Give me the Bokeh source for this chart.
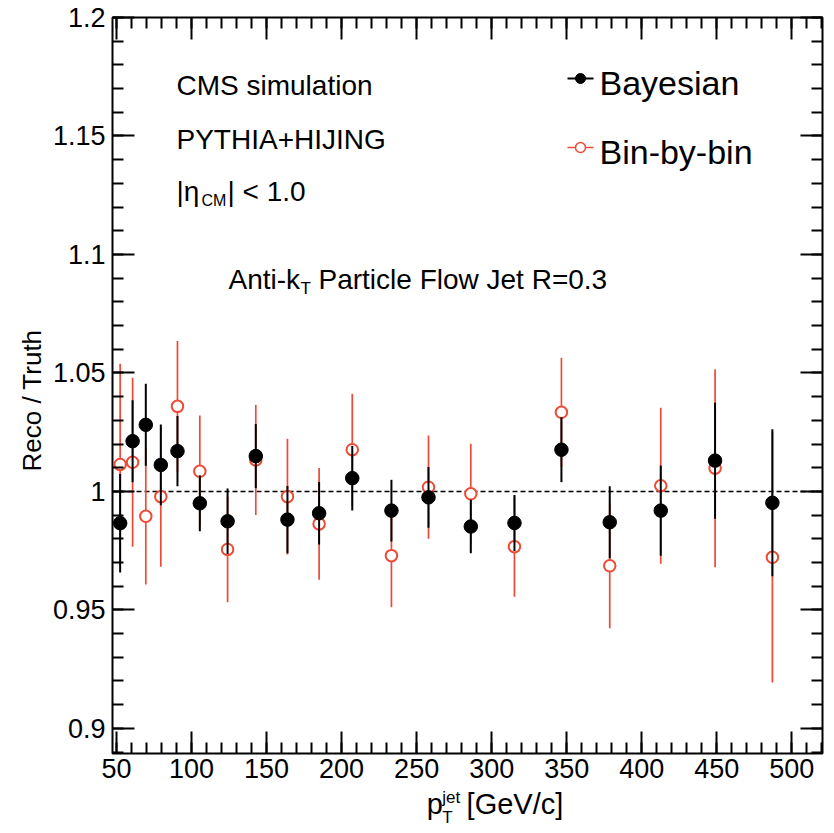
import numpy as np
from bokeh.plotting import figure
from bokeh.layouts import row, column
from bokeh.models import (Range1d, LinearAxis, SingleIntervalTicker, FixedTicker,
                          CustomJSTickFormatter, Label, Span, ColumnDataSource)
from bokeh.embed import file_html
from bokeh.resources import INLINE

# Jet pT bin centres [GeV/c]
pt_centers = [52.4, 60.7, 69.5, 79.5, 90.6, 105.5, 124.0, 142.8, 163.9, 185.0,
              207.1, 233.2, 257.9, 286.1, 315.2, 346.5, 378.7, 412.7, 448.9, 487.1]

# Reco / Truth after Bayesian unfolding
bayes_ratio = [0.9866, 1.0212, 1.0281, 1.0112, 1.0170, 0.9950, 0.9874, 1.0149, 0.9881, 0.9908,
               1.0056, 0.9919, 0.9975, 0.9852, 0.9867, 1.0176, 0.9870, 0.9919, 1.0130, 0.9952]
bayes_err = [0.0208, 0.0173, 0.0173, 0.0170, 0.0148, 0.0118, 0.0138, 0.0135, 0.0142, 0.0132,
             0.0136, 0.0130, 0.0128, 0.0113, 0.0118, 0.0137, 0.0152, 0.0190, 0.0245, 0.0310]

# Reco / Truth after bin-by-bin correction
bbb_ratio = [1.0114, 1.0123, 0.9895, 0.9978, 1.0359, 1.0085, 0.9755, 1.0133, 0.9978, 0.9863,
             1.0176, 0.9729, 1.0018, 0.9990, 0.9767, 1.0334, 0.9686, 1.0024, 1.0098, 0.9722]
bbb_err = [0.0425, 0.0357, 0.0288, 0.0296, 0.0276, 0.0235, 0.0223, 0.0232, 0.0244, 0.0236,
           0.0236, 0.0218, 0.0218, 0.0211, 0.0211, 0.0230, 0.0263, 0.0329, 0.0418, 0.0528]

# Axis ticks
y_major_ticks = [0.9, 0.95, 1.0, 1.05, 1.1, 1.15, 1.2]
y_minor_ticks = np.round(np.arange(0.89, 1.2001, 0.01), 2).tolist()

X_LO, X_HI = 47.3, 520.5
Y_LO, Y_HI = 0.8894, 1.2

FONT = "Liberation Sans"
RED = "#ee4a36"

# page geometry (canvas pixels)
W, H = 834, 833
LEFT_STRIP = 48            # column holding the y-axis title
MAIN_H = 789               # main plot height; the x-axis title sits below it
FRAME_L, FRAME_R, FRAME_T, FRAME_B = 112, 822, 17, 753


def at_x(px):
    return X_LO + (px - FRAME_L) * (X_HI - X_LO) / (FRAME_R - FRAME_L)


def at_y(py):
    return Y_HI - (py - FRAME_T) * (Y_HI - Y_LO) / (FRAME_B - FRAME_T)


p = figure(width=W - LEFT_STRIP, height=MAIN_H,
           x_range=Range1d(X_LO, X_HI), y_range=Range1d(Y_LO, Y_HI),
           output_backend="svg", toolbar_location=None,
           min_border_left=FRAME_L - LEFT_STRIP, min_border_right=W - FRAME_R,
           min_border_top=FRAME_T, min_border_bottom=MAIN_H - FRAME_B)
p.grid.visible = False
p.outline_line_color = "black"
p.outline_line_width = 2
p.background_fill_color = "white"
p.border_fill_color = "white"

x_ticker = SingleIntervalTicker(interval=50, num_minor_ticks=5)
y_ticker = FixedTicker(ticks=y_major_ticks, minor_ticks=y_minor_ticks)


def style_axis(ax, show_labels):
    ax.axis_line_color = None
    ax.major_tick_in = 22
    ax.major_tick_out = 0
    ax.minor_tick_in = 11
    ax.minor_tick_out = 0
    ax.major_tick_line_width = 2
    ax.minor_tick_line_width = 2
    ax.major_tick_line_color = "black"
    ax.minor_tick_line_color = "black"
    ax.axis_label = None
    if show_labels:
        ax.major_label_text_font = FONT
        ax.major_label_text_font_size = "27px"
        ax.major_label_text_color = "black"
    else:
        ax.formatter = CustomJSTickFormatter(code="return '';")
        ax.major_label_text_font_size = "8px"
        ax.major_label_standoff = 0


xb = p.xaxis[0]
xb.ticker = x_ticker
style_axis(xb, True)
xb.major_label_standoff = 5

yl = p.yaxis[0]
yl.ticker = y_ticker
yl.formatter = CustomJSTickFormatter(code="return String(Math.round(tick * 100) / 100);")
style_axis(yl, True)
yl.major_label_standoff = 7

xt = LinearAxis(ticker=x_ticker)
style_axis(xt, False)
p.add_layout(xt, "above")

yr = LinearAxis(ticker=y_ticker)
style_axis(yr, False)
p.add_layout(yr, "right")

# reference line at unity
p.add_layout(Span(location=1.0, dimension="width", line_color="black",
                  line_width=1.5, line_dash="5 3", level="underlay"))

pt = np.array(pt_centers)
b = np.array(bayes_ratio)
be = np.array(bayes_err)
r = np.array(bbb_ratio)
re_ = np.array(bbb_err)

bbb_src = ColumnDataSource(dict(x=pt, y=r, lo=r - re_, hi=r + re_))
bay_src = ColumnDataSource(dict(x=pt, y=b, lo=b - be, hi=b + be))

p.segment(x0="x", y0="lo", x1="x", y1="hi", source=bbb_src, line_color=RED, line_width=1.7)
p.scatter(x="x", y="y", source=bbb_src, size=11.5, marker="circle",
          fill_color="white", line_color=RED, line_width=2)
p.segment(x0="x", y0="lo", x1="x", y1="hi", source=bay_src, line_color="black", line_width=2)
p.scatter(x="x", y="y", source=bay_src, size=13.5, marker="circle",
          fill_color="black", line_color="black")


def put(fig, text, x, y, size, **kw):
    fig.add_layout(Label(x=x, y=y, text=text, text_font=FONT,
                         text_font_size=size, text_color="black",
                         text_baseline=kw.pop("baseline", "middle"),
                         text_align=kw.pop("align", "left"), **kw))


# descriptive text inside the frame
put(p, "CMS simulation", at_x(176), at_y(85), "28px")
put(p, "PYTHIA+HIJING", at_x(176), at_y(139), "28px")
put(p, "|\u03b7", at_x(176), at_y(191), "28px")
put(p, "CM", at_x(201), at_y(200), "16px")
put(p, "| < 1.0", at_x(227), at_y(191), "28px")
put(p, "Anti-k", at_x(228), at_y(279), "28px")
put(p, "T", at_x(300), at_y(288), "17px")
put(p, "Particle Flow Jet R=0.3", at_x(318), at_y(279), "28px")

# legend
legend_x0, legend_x1, legend_xm = at_x(567), at_x(593), at_x(580)
p.segment(x0=[legend_x0], y0=[at_y(78)], x1=[legend_x1], y1=[at_y(78)],
          line_color="black", line_width=2)
p.scatter(x=[legend_xm], y=[at_y(78)], size=10, marker="circle",
          fill_color="black", line_color="black")
p.segment(x0=[legend_x0], y0=[at_y(147)], x1=[legend_x1], y1=[at_y(147)],
          line_color=RED, line_width=1.5)
p.scatter(x=[legend_xm], y=[at_y(147)], size=10, marker="circle", fill_color="white",
          line_color=RED, line_width=1.5)
put(p, "Bayesian", at_x(599), at_y(82), "34px")
put(p, "Bin-by-bin", at_x(599), at_y(151), "34px")


def strip(width, height, x0, x1):
    s = figure(width=width, height=height, x_range=Range1d(x0, x1), y_range=Range1d(0, height),
               output_backend="svg", toolbar_location=None, min_border=0,
               x_axis_type=None, y_axis_type=None)
    s.grid.visible = False
    s.outline_line_color = None
    s.background_fill_color = "white"
    s.border_fill_color = "white"
    return s


# y-axis title (strip coordinates: x in canvas px, y measured up from the page bottom)
left = strip(LEFT_STRIP, H, 0, LEFT_STRIP)
put(left, "Reco / Truth", 31, H - 400, "26px", align="center", angle=np.pi / 2)

# x-axis title below the main plot
bottom_h = H - MAIN_H
bottom = strip(W - LEFT_STRIP, bottom_h, LEFT_STRIP, W)
put(bottom, "p", 396, H - 803, "29px")
put(bottom, "jet", 413, H - 797, "17px")
put(bottom, "T", 413, H - 817, "17px")
put(bottom, "[GeV/c]", 440, H - 803, "29px")

page = row(left, column(p, bottom))
open("out.html", "w").write(file_html(page, INLINE))
